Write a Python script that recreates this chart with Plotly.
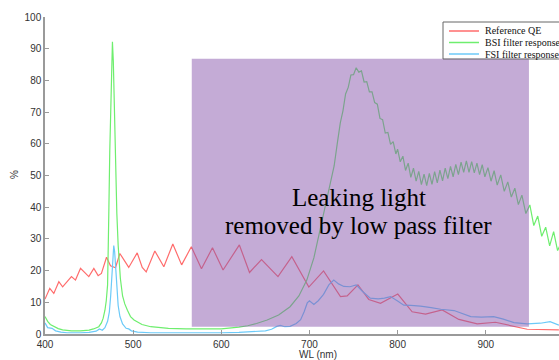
import plotly.graph_objects as go

# ---------------- data ----------------
ref_wl = [400, 405.4, 410, 415.7, 420, 430, 434.6, 440.3, 449.7, 455.4, 460.3, 464, 469.8, 474.3,
          480, 484.9, 495, 504.6, 510.3, 514.8, 524.6, 534.8, 545, 555, 566, 577.5, 590, 602,
          620.5, 632, 645.6, 664.3, 680, 699.3, 716, 735.2, 742.8, 755, 767.3, 780.6, 800.2,
          816.5, 831.7, 850.6, 869.5, 890.3, 911, 931.8, 947, 983]
ref_qe = [11, 14.4, 12.8, 16.5, 14.9, 18.1, 17, 20.7, 18.1, 20.7, 18.4, 19.1, 24.2, 21.5,
          20.9, 25.4, 21, 25.6, 21, 19.6, 26.2, 21.2, 28.4, 21.8, 27.5, 20.6, 27.2, 20.2,
          28.1, 19.4, 23.5, 18.1, 24.4, 14.8, 19.9, 11.8, 12, 15.5, 10.9, 9.7, 12.6,
          7, 6.3, 7.6, 4.6, 3.2, 3.7, 2.3, 1.5, 1.3]

bsi_wl = [400, 403, 406, 410, 415, 420, 430, 440, 450, 455, 461, 464, 466, 468, 469.5, 471,
          472, 472.5, 473.5, 474.5, 475.5, 476.5, 477.5, 478.5, 479.5, 480.5, 481.5, 483,
          485.5, 488, 490.5, 493.5, 497, 501, 510, 520, 540, 560, 580, 600, 620, 630, 640,
          652, 665, 678, 688, 697, 705, 712, 716, 720, 725, 728, 731.5,
          735, 738, 741, 744, 747, 750, 753, 756, 759, 762, 765, 768, 771, 774, 777, 780,
          783, 786, 789, 792, 795, 798,
          800, 803, 806, 809, 812, 815, 818, 821, 824, 827, 830, 833, 836, 839, 842, 845,
          848, 851, 854, 857, 860, 863, 866, 869, 872, 875, 878, 881, 884, 887, 890, 893,
          896, 899,
          902.5, 906, 909.5, 913, 917, 921, 925, 929, 933, 937, 941, 945.5, 950, 954.5,
          959, 963.5, 968, 972.5, 977, 981.5, 985]
bsi_resp = [5.5, 4.0, 3.0, 2.3, 1.7, 1.3, 1.0, 1.0, 1.2, 1.6, 2.3, 3.5, 5, 7.5, 10.5, 15.5,
            28, 40, 58, 72, 85, 92.2, 86, 72, 56, 45, 38, 28,
            17.5, 12, 9.5, 7.5, 5.5, 4.4, 3, 2.3, 1.8, 1.6, 1.5, 1.6, 2.2, 2.6, 3.3,
            4.4, 6, 8.6, 12, 17, 24, 32.8, 38, 43.3, 48.6, 53, 60,
            66.6, 70.4, 75.7, 77.8, 81.7, 81.8, 84, 82.6, 83, 79.5, 79.6, 76.4, 76.4, 73, 72.5, 68,
            67.6, 63.4, 63.6, 59.8, 60.7, 56.8,
            58.3, 54.3, 56.1, 51.6, 53.9, 49.4, 52.3, 48.2, 51.3, 47.1, 50.4, 46.8, 50.7, 47.2, 51.2, 47.7,
            51.7, 48.3, 52.3, 49.0, 52.9, 49.6, 53.5, 50.3, 54.2, 51, 54.6, 51, 54.4, 50.8, 53.9, 50.3,
            53.4, 49.6,
            52.5, 48.2, 51.5, 47, 50.2, 45, 48, 43.2, 46, 40.8, 43.8, 38, 40.7, 34.2,
            37.2, 30.8, 33.7, 27.8, 32.3, 26.3, 28.5]

fsi_wl = [400, 403, 408, 412, 418, 425, 440, 450, 458, 461.8, 465, 468, 471, 473, 474.5, 476,
          477.3, 478, 479, 480.5, 481.5, 483, 485, 488, 492, 495, 498, 505, 520, 560, 600,
          620, 640, 650, 657, 663, 667, 672, 678, 685, 690, 694, 697.5, 700, 705, 710, 716,
          722, 727.6, 733, 739, 746, 753, 760, 769, 778, 785, 792, 800, 807, 815, 826, 838,
          849, 864, 873, 883, 895, 909, 920, 932, 947, 962, 973, 983]
fsi_resp = [3.5, 2.0, 1.8, 1.0, 0.6, 0.4, 0.4, 0.5, 0.9, 1.6, 1.2, 2.0, 4.0, 7, 12, 20,
            26, 27.9, 26, 20, 14, 9, 5.5, 3.2, 1.8, 1.6, 1.0, 0.6, 0.4, 0.3, 0.4,
            0.5, 0.7, 1.0, 1.5, 2.4, 2.7, 2.3, 2.4, 3.3, 4.5, 7, 9.8, 10.5, 9.3, 10.5, 12.5,
            15.5, 17, 15.8, 15, 14.9, 15.5, 13.5, 11.3, 11.1, 11.3, 11.8, 10.4, 9.1, 9.0, 8.8, 8.3,
            7.8, 7.4, 6.5, 5.5, 5.3, 5.5, 4.7, 3.6, 3.2, 3.4, 3.9, 2.8]

series_names = ["Reference QE", "BSI filter response", "FSI filter response"]
x_ticks = [400, 500, 600, 700, 800, 900]
y_ticks = [0, 10, 20, 30, 40, 50, 60, 70, 80, 90, 100]
note_lines = ["Leaking light", "removed by low pass filter"]

# ---------------- styling / layout ----------------
W, H = 559, 360
L, T, R = 45, 17, 0
B = H - 334
colors = ["#ff6c6c", "#6eee6e", "#6ccaf8"]
TICK_FONT = "Liberation Sans, Arial, sans-serif"
SERIF = "Liberation Serif, Times New Roman, serif"


def px_x(p):
    """window pixel x -> paper coordinate"""
    return (p - L) / (W - L - R)


def px_y(p):
    """window pixel y -> paper coordinate"""
    return (H - B - p) / (H - T - B)


fig = go.Figure()
for xs, ys, name, c in zip([ref_wl, bsi_wl, fsi_wl], [ref_qe, bsi_resp, fsi_resp], series_names, colors):
    fig.add_trace(go.Scatter(x=xs, y=ys, mode="lines", name=name,
                             line=dict(color=c, width=1.2), showlegend=False))

shapes = []
# shaded "leaking light" region
shapes.append(dict(type="rect", xref="x", yref="y", x0=566.5, x1=949, y0=2.3, y1=86.8,
                   fillcolor="rgb(137,87,173)", opacity=0.5, line=dict(width=0), layer="above"))
# manual legend box
shapes.append(dict(type="rect", xref="paper", yref="paper", x0=px_x(443), x1=px_x(565),
                   y0=px_y(59), y1=px_y(22), line=dict(color="#666666", width=1),
                   fillcolor="rgba(0,0,0,0)", layer="above"))
annotations = []
rows = [31, 42.5, 54]
for name, c, ry in zip(series_names, colors, rows):
    shapes.append(dict(type="line", xref="paper", yref="paper", x0=px_x(449), x1=px_x(479),
                       y0=px_y(ry), y1=px_y(ry), line=dict(color=c, width=1.5), layer="above"))
    annotations.append(dict(xref="paper", yref="paper", x=px_x(483), y=px_y(ry), text=name,
                            showarrow=False, xanchor="left", yanchor="middle",
                            font=dict(family=SERIF, size=10, color="#111111")))

# in-plot note
for line, yv in zip(note_lines, [43.0, 34.2]):
    annotations.append(dict(xref="x", yref="y", x=756, y=yv, text=line, showarrow=False,
                            xanchor="center", yanchor="middle",
                            font=dict(family=SERIF, size=25, color="#000000")))

# axis titles
annotations.append(dict(xref="paper", yref="paper", x=px_x(318), y=px_y(354), text="WL (nm)",
                        showarrow=False, xanchor="center", yanchor="middle",
                        font=dict(family=TICK_FONT, size=10, color="#333333")))
annotations.append(dict(xref="paper", yref="paper", x=px_x(14), y=px_y(175), text="%",
                        showarrow=False, xanchor="center", yanchor="middle", textangle=-90,
                        font=dict(family=TICK_FONT, size=10, color="#333333")))

axis_common = dict(showline=True, linecolor="#9a9a9a", linewidth=1.5, ticks="inside",
                   ticklen=4, tickcolor="#9a9a9a", tickwidth=1, showgrid=False, zeroline=False,
                   tickfont=dict(family=TICK_FONT, size=10, color="#333333"))

fig.update_layout(
    width=W, height=H,
    margin=dict(l=L, r=R, t=T, b=B, pad=0),
    paper_bgcolor="white", plot_bgcolor="white",
    xaxis=dict(range=[400, 400 + (W - L - R) / 0.8815], tickvals=x_ticks, **axis_common),
    yaxis=dict(range=[0, 100], tickvals=y_ticks, **axis_common),
    shapes=shapes, annotations=annotations, showlegend=False,
)

# remove the default page margin so the 559x360 figure fills the window exactly
fig.write_html("out.html", config={"displayModeBar": False},
               post_script="document.body.style.margin='0';document.body.style.overflow='hidden';")
